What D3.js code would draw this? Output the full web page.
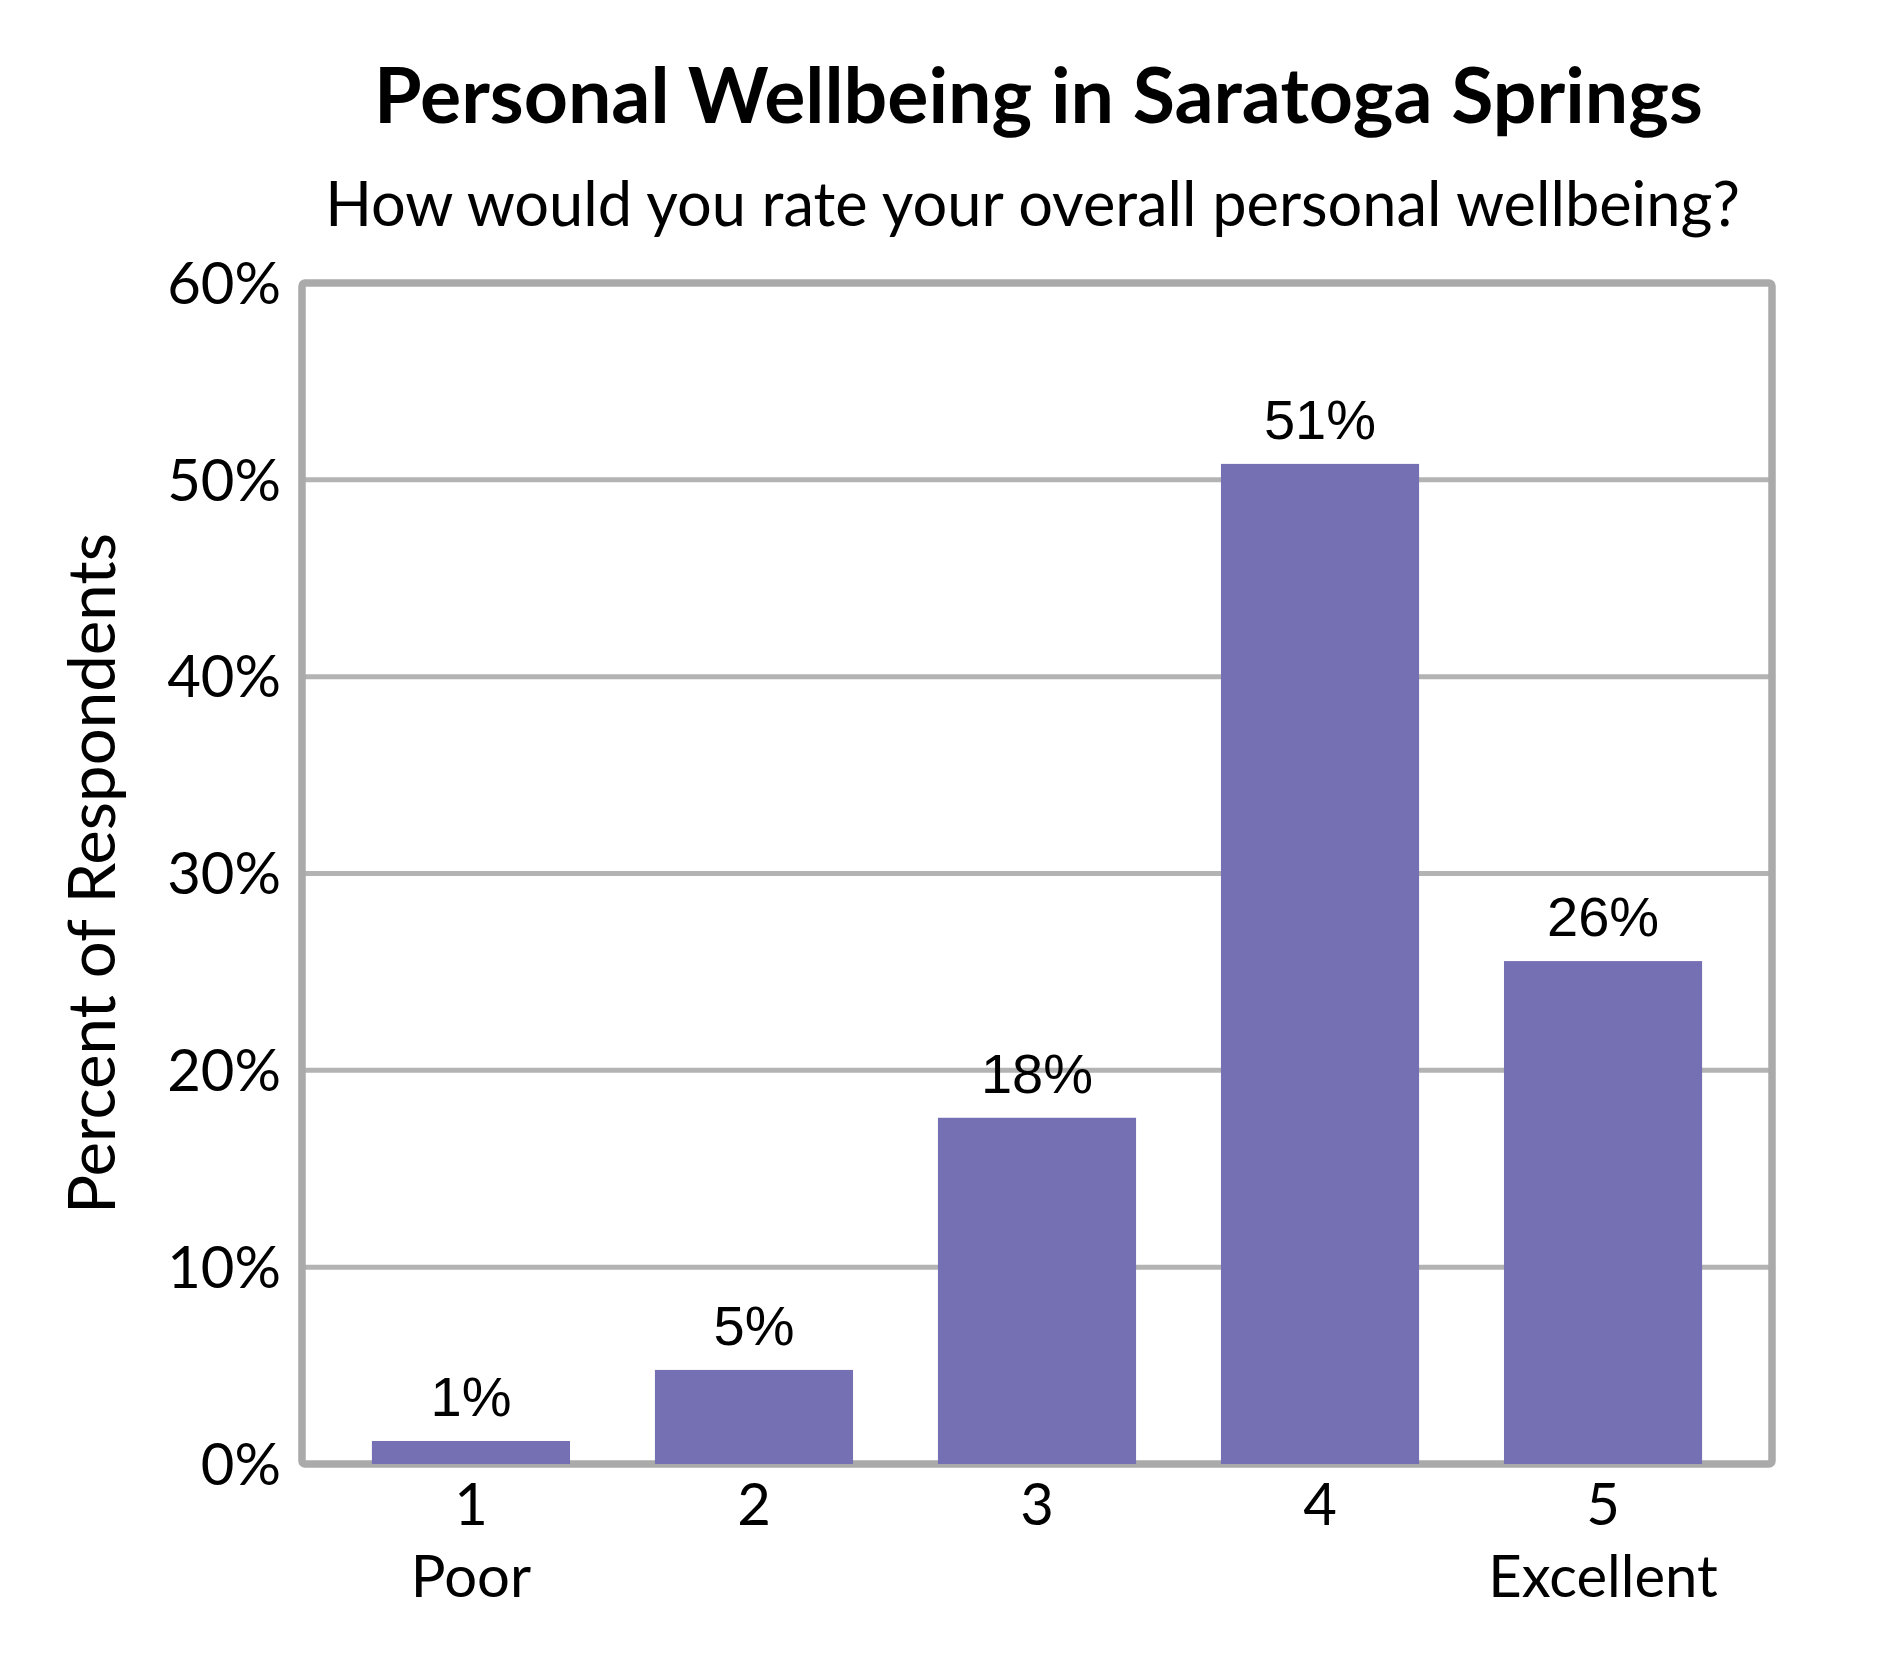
<!DOCTYPE html>
<html>
<head>
<meta charset="utf-8">
<script src="https://cdn.jsdelivr.net/npm/d3@7"></script>
<style>
  html, body { margin: 0; padding: 0; background: #fff; }
  svg { display: block; }
</style>
</head>
<body>
<svg id="chart"></svg>
<script>
// chart data
const ratings = ['1', '2', '3', '4', '5'];
const ratingNames = ['Poor', '', '', '', 'Excellent'];
const percents = [1.17, 4.78, 17.59, 50.81, 25.55];
const valueLabels = ['1%', '5%', '18%', '51%', '26%'];
const yTicks = [0, 10, 20, 30, 40, 50, 60];

const width = 1890;
const height = 1680;
const margin = { top: 283, right: 118, bottom: 216, left: 302 };
const innerWidth = width - margin.left - margin.right;
const innerHeight = height - margin.top - margin.bottom;

const calibri = 'Lato';
const arial = 'Liberation Sans';
const borderColor = '#aaaaaa';
const barColor = '#7570b3';

const svg = d3.select('#chart')
  .attr('width', width)
  .attr('height', height)
  .attr('viewBox', `0 0 ${width} ${height}`)
  .style('background', '#fff');

const g = svg.append('g')
  .attr('transform', `translate(${margin.left},${margin.top})`);

// scales
const x = d3.scaleBand()
  .domain(ratings)
  .range([0, innerWidth])
  .paddingInner(0.30)
  .paddingOuter(0.247);

const y = d3.scaleLinear()
  .domain([0, 60])
  .range([innerHeight, 0]);

// grid lines
g.append('g')
  .attr('class', 'grid')
  .selectAll('line')
  .data(yTicks.filter(d => d > 0 && d < 60))
  .enter()
  .append('line')
  .attr('x1', 0)
  .attr('x2', innerWidth)
  .attr('y1', d => y(d))
  .attr('y2', d => y(d))
  .attr('stroke', '#b3b3b3')
  .attr('stroke-width', 5);

// plot border
g.append('rect')
  .attr('x', 0)
  .attr('y', 0)
  .attr('width', innerWidth)
  .attr('height', innerHeight)
  .attr('rx', 3)
  .attr('fill', 'none')
  .attr('stroke', borderColor)
  .attr('stroke-width', 7.5);

// bars
g.selectAll('.bar')
  .data(percents)
  .enter()
  .append('rect')
  .attr('class', 'bar')
  .attr('x', (d, i) => x(ratings[i]))
  .attr('y', d => y(d))
  .attr('width', x.bandwidth())
  .attr('height', d => y(0) - y(d))
  .attr('fill', barColor);

// value labels
g.selectAll('.value-label')
  .data(percents)
  .enter()
  .append('text')
  .attr('class', 'value-label')
  .attr('x', (d, i) => x(ratings[i]) + x.bandwidth() / 2)
  .attr('y', d => y(d) - 25)
  .attr('text-anchor', 'middle')
  .style('font-family', arial)
  .style('font-size', '56px')
  .attr('fill', '#000')
  .text((d, i) => valueLabels[i]);

// y axis
const yAxis = g.append('g')
  .call(d3.axisLeft(y)
    .tickValues(yTicks)
    .tickSize(0)
    .tickPadding(21)
    .tickFormat(d => d + '%'))
  .attr('font-family', calibri)
  .attr('font-size', 58);
yAxis.select('.domain').remove();
yAxis.selectAll('text')
  .attr('dy', '0.35em')
  .attr('fill', '#000');

// x axis
const xAxis = g.append('g')
  .attr('transform', `translate(0,${innerHeight})`)
  .call(d3.axisBottom(x)
    .tickSize(0)
    .tickPadding(20))
  .attr('font-family', calibri)
  .attr('font-size', 58);
xAxis.select('.domain').remove();
xAxis.selectAll('text')
  .attr('fill', '#000');
xAxis.selectAll('.tick')
  .append('text')
  .attr('y', 92)
  .attr('dy', '0.71em')
  .attr('fill', '#000')
  .text((d, i) => ratingNames[i]);

// fit a text to a measured width by adjusting its font size
function fitWidth(sel, size, target) {
  sel.style('font-size', size + 'px');
  const w = sel.node().getComputedTextLength();
  sel.style('font-size', (size * target / w).toFixed(2) + 'px');
}

// y axis title
const yTitle = svg.append('text')
  .attr('transform', 'rotate(-90)')
  .attr('x', -(margin.top + innerHeight / 2))
  .attr('y', 115)
  .attr('text-anchor', 'middle')
  .style('font-family', calibri)
  .text('Percent of Respondents');
fitWidth(yTitle, 62, 681);

// title
const title = svg.append('text')
  .attr('x', 1038.5)
  .attr('y', 123)
  .attr('text-anchor', 'middle')
  .style('font-family', calibri)
  .style('font-weight', 'bold')
  .text('Personal Wellbeing in Saratoga Springs');
fitWidth(title, 74, 1329);

// subtitle
const subtitle = svg.append('text')
  .attr('x', 1032.5)
  .attr('y', 226)
  .attr('text-anchor', 'middle')
  .style('font-family', calibri)
  .text('How would you rate your overall personal wellbeing?');
fitWidth(subtitle, 60, 1415);
</script>
</body>
</html>
